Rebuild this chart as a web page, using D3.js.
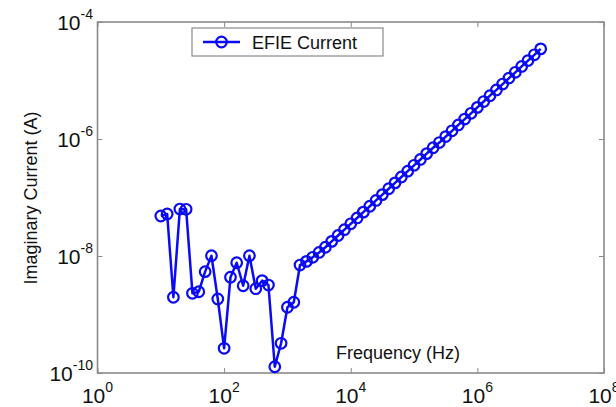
<!DOCTYPE html>
<html><head><meta charset="utf-8">
<script src="https://cdn.jsdelivr.net/npm/d3@7"></script>
<style>body{margin:0;background:#fff}svg{display:block;font-family:"Liberation Sans",Arial,sans-serif}</style>
</head><body>
<svg id="c" width="616" height="407"></svg>
<script>
const frequencies = [
  1.00e1,1.26e1,1.58e1,2.00e1,2.51e1,3.16e1,3.98e1,5.01e1,6.31e1,7.94e1,
  1.00e2,1.26e2,1.58e2,2.00e2,2.51e2,3.16e2,3.98e2,5.01e2,6.31e2,7.94e2,
  1.00e3,1.26e3,1.58e3,2.00e3,2.51e3,3.16e3,3.98e3,5.01e3,6.31e3,7.94e3,
  1.00e4,1.26e4,1.58e4,2.00e4,2.51e4,3.16e4,3.98e4,5.01e4,6.31e4,7.94e4,
  1.00e5,1.26e5,1.58e5,2.00e5,2.51e5,3.16e5,3.98e5,5.01e5,6.31e5,7.94e5,
  1.00e6,1.26e6,1.58e6,2.00e6,2.51e6,3.16e6,3.98e6,5.01e6,6.31e6,7.94e6,
  1.00e7];
const efieCurrent = [
  4.83e-8,5.22e-8,1.97e-9,6.35e-8,6.28e-8,2.30e-9,2.45e-9,5.4e-9,1.01e-8,1.84e-9,
  2.64e-10,4.33e-9,7.67e-9,3.10e-9,1.01e-8,2.76e-9,3.79e-9,3.19e-9,1.28e-10,3.22e-10,
  1.33e-9,1.62e-9,7.0e-9,8.1e-9,9.5e-9,1.15e-8,1.41e-8,1.78e-8,2.24e-8,2.82e-8,
  3.55e-8,4.47e-8,5.62e-8,7.08e-8,8.91e-8,1.12e-7,1.41e-7,1.78e-7,2.24e-7,2.82e-7,
  3.55e-7,4.47e-7,5.62e-7,7.08e-7,8.7e-7,1.10e-6,1.38e-6,1.74e-6,2.19e-6,2.75e-6,
  3.47e-6,4.37e-6,5.5e-6,6.9e-6,8.7e-6,1.10e-5,1.38e-5,1.74e-5,2.19e-5,2.75e-5,
  3.47e-5];
const xTickExps = [0,2,4,6,8];
const yTickExps = [-4,-6,-8,-10];
const seriesName = "EFIE Current";
const xLabel = "Frequency (Hz)";
const yLabel = "Imaginary Current (A)";

const L=97.5,R=604,T=22,B=373;
const x = d3.scaleLog().domain([1,1e8]).range([L,R]);
const y = d3.scaleLog().domain([1e-10,1e-4]).range([B,T]);
const svg = d3.select("#c");
const blue="#0a0af5", axisCol="#8a8a8a";

// ticks (inward)
const xt = xTickExps.map(e=>Math.pow(10,e)), yt = yTickExps.map(e=>Math.pow(10,e));
[[d3.axisBottom(x),B,0],[d3.axisTop(x),T,0]].forEach(([a,ty])=>{
  const g=svg.append("g").attr("transform",`translate(0,${ty})`)
    .call(a.tickValues(xt).tickSize(-5).tickFormat(""));
  g.select(".domain").remove(); g.selectAll("line").attr("stroke",axisCol).attr("stroke-width",1);
});
[[d3.axisLeft(y),L],[d3.axisRight(y),R]].forEach(([a,tx])=>{
  const g=svg.append("g").attr("transform",`translate(${tx},0)`)
    .call(a.tickValues(yt).tickSize(-5).tickFormat(""));
  g.select(".domain").remove(); g.selectAll("line").attr("stroke",axisCol).attr("stroke-width",1);
});
svg.append("rect").attr("x",L).attr("y",T).attr("width",R-L).attr("height",B-T)
  .attr("fill","none").attr("stroke",axisCol).attr("stroke-width",1.6);

// tick labels
xTickExps.forEach(e=>{
  const t=svg.append("text").attr("x",x(Math.pow(10,e))).attr("y",403)
    .attr("text-anchor","middle").attr("font-size",21).attr("fill","#111");
  t.append("tspan").text("10");
  t.append("tspan").attr("font-size",14).attr("dy",-11).text(e);
});
yTickExps.forEach(e=>{
  const t=svg.append("text").attr("x",93).attr("y",y(Math.pow(10,e))+8)
    .attr("text-anchor","end").attr("font-size",21).attr("fill","#111");
  t.append("tspan").text("10");
  t.append("tspan").attr("font-size",14).attr("dy",-11).text(e);
});

// axis labels
svg.append("text").attr("x",398).attr("y",359).attr("text-anchor","middle")
  .attr("font-size",18).attr("fill","#111").text(xLabel);
svg.append("text").attr("transform","translate(37,198) rotate(-90)").attr("text-anchor","middle")
  .attr("font-size",18).attr("fill","#111").text(yLabel);

// series
const data = frequencies.map((f,i)=>({f,v:efieCurrent[i]}));
svg.append("path").datum(data)
  .attr("d",d3.line().x(d=>x(d.f)).y(d=>y(d.v)))
  .attr("fill","none").attr("stroke",blue).attr("stroke-width",2.5).attr("stroke-linejoin","round");
svg.selectAll("circle.pt").data(data).join("circle").attr("class","pt")
  .attr("cx",d=>x(d.f)).attr("cy",d=>y(d.v)).attr("r",5.3)
  .attr("fill","none").attr("stroke",blue).attr("stroke-width",2.2);

// legend
const lg=svg.append("g");
lg.append("rect").attr("x",192).attr("y",28).attr("width",191).attr("height",28)
  .attr("fill","#fff").attr("stroke",axisCol).attr("stroke-width",1.2);
lg.append("line").attr("x1",203).attr("x2",240).attr("y1",42).attr("y2",42)
  .attr("stroke",blue).attr("stroke-width",2.5);
lg.append("circle").attr("cx",221.5).attr("cy",42).attr("r",5.3)
  .attr("fill","none").attr("stroke",blue).attr("stroke-width",2.2);
lg.append("text").attr("x",252).attr("y",48.5).attr("font-size",18).attr("fill","#111").text(seriesName);
</script>
</body></html>
